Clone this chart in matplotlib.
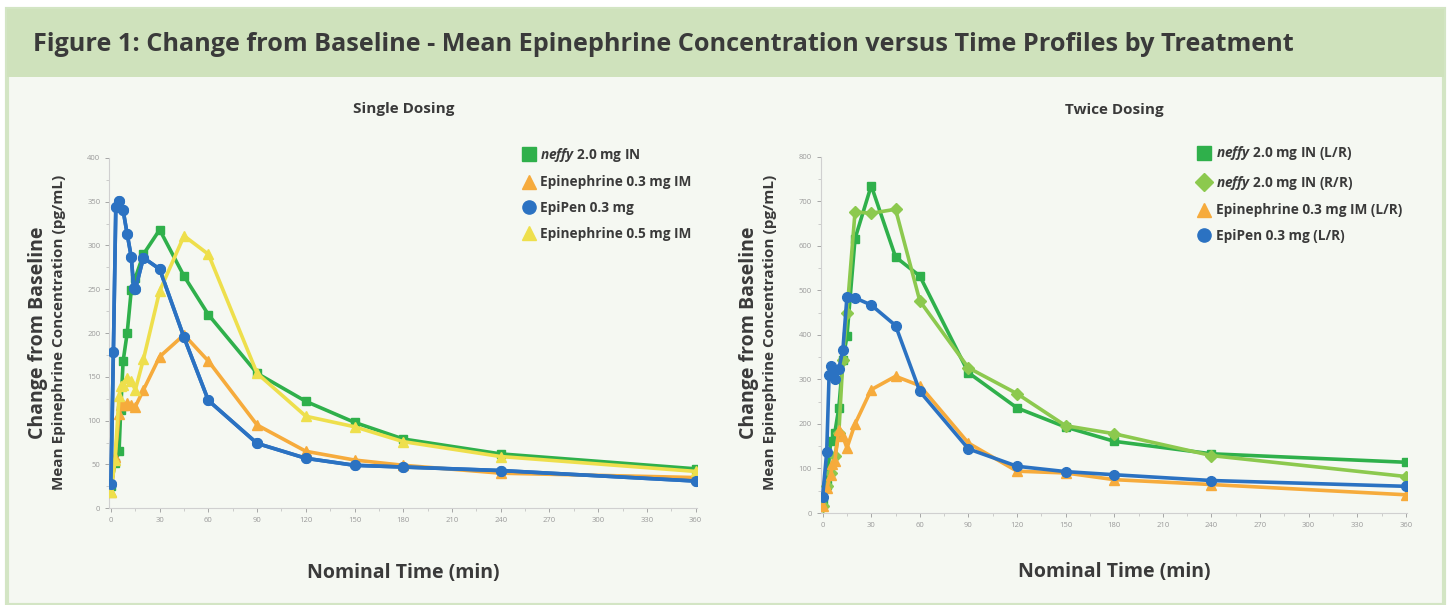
import numpy as np
import matplotlib.pyplot as plt
from matplotlib.lines import Line2D
from matplotlib.patches import Rectangle

plt.rcParams['font.family'] = ['Open Sans', 'DejaVu Sans']
plt.rcParams['mathtext.fontset'] = 'custom'
plt.rcParams['mathtext.it'] = 'Open Sans:italic:bold'
plt.rcParams['mathtext.rm'] = 'Open Sans:bold'

# ---- single dosing
t_neffy1 = [0, 2.5, 5, 6, 7.5, 10, 12.5, 15, 20, 30, 45, 60, 90, 120, 150, 180, 240, 360]
neffy1 = [25, 52, 65, 112, 168, 200, 249, 263, 290, 318, 265, 221, 154, 122, 98, 79, 62, 45]
t_epi03 = [0, 2.5, 5, 6, 7.5, 10, 12.5, 15, 20, 30, 45, 60, 90, 120, 150, 180, 240, 360]
epi03 = [19, 58, 107, 118, 118, 120, 118, 116, 135, 173, 198, 168, 95, 65, 55, 49, 40, 35]
t_epipen1 = [0, 1.5, 3, 5, 7.5, 10, 12.5, 14, 15, 20, 30, 45, 60, 90, 120, 150, 180, 240, 360]
epipen1 = [28, 178, 344, 351, 340, 313, 287, 252, 250, 286, 273, 195, 123, 74, 57, 49, 47, 43, 31]
t_epi05 = [0, 2.5, 5, 6, 7.5, 10, 12.5, 15, 20, 30, 45, 60, 90, 120, 150, 180, 240, 360]
epi05 = [19, 55, 128, 139, 141, 149, 145, 135, 170, 248, 311, 290, 154, 105, 93, 76, 59, 42]

# ---- twice dosing
t_lr = [0, 2.5, 5, 7.5, 10, 12.5, 15, 20, 30, 45, 60, 90, 120, 150, 180, 240, 360]
neffy_lr = [22, 64, 161, 180, 236, 344, 397, 616, 735, 575, 532, 315, 236, 193, 161, 133, 114]
t_rr = [0, 2.5, 5, 7.5, 10, 12.5, 15, 20, 30, 45, 60, 90, 120, 150, 180, 240, 360]
neffy_rr = [15, 60, 90, 127, 180, 344, 450, 676, 673, 682, 476, 326, 268, 196, 178, 129, 82]
t_epi_lr = [0, 2.5, 5, 6, 7.5, 10, 12.5, 15, 20, 30, 45, 60, 90, 120, 150, 180, 240, 360]
epi_lr = [15, 56, 86, 109, 116, 187, 172, 146, 200, 277, 307, 286, 157, 94, 90, 75, 64, 41]
t_pen_lr = [0, 2.5, 4, 5, 6, 7.5, 10, 12.5, 15, 20, 30, 45, 60, 90, 120, 150, 180, 240, 360]
pen_lr = [37, 136, 311, 330, 315, 301, 324, 366, 485, 483, 467, 421, 273, 144, 105, 93, 86, 73, 60]

GREEN = '#2fb04b'
LGREEN = '#8cc94e'
ORANGE = '#f6ab3c'
BLUE = '#2b72c2'
YELLOW = '#eedf4c'
TXT = '#3a3a3a'
BG = '#f5f8f2'

fig = plt.figure(figsize=(14.48, 6.05), dpi=100, facecolor='white')
fig.patches.append(Rectangle((0.005, 0.0), 0.992, 0.985, transform=fig.transFigure,
                             facecolor=BG, edgecolor='#d3e5c4', lw=3, zorder=-2))
fig.patches.append(Rectangle((0.005, 0.873), 0.992, 0.112, transform=fig.transFigure,
                             facecolor='#cfe2bc', edgecolor='none', zorder=-1))
fig.text(0.023, 0.927, 'Figure 1: Change from Baseline - Mean Epinephrine Concentration versus Time Profiles by Treatment',
         fontsize=18.2, fontweight='bold', color=TXT, va='center', ha='left')


def panel(ax, series, title, ymax, ystep, tpad, xpad):
    for t, y, c, m, ms, lab in series:
        ax.plot(t, y, color=c, lw=2.6, marker=m, ms=ms, mec=c, mfc=c, zorder=3)
    ax.set_xlim(-1, 361)
    ax.set_ylim(0, ymax)
    ax.set_xticks(np.arange(0, 361, 30))
    ax.set_xticks(np.arange(0, 361, 15), minor=True)
    ax.set_yticks(np.arange(0, ymax + 1, ystep))
    ax.set_yticks(np.arange(0, ymax + 1, ystep / 2), minor=True)
    ax.tick_params(labelsize=5.5, colors='#9a9a9a', length=3, width=0.6)
    ax.tick_params(which='minor', length=2, width=0.5, colors='#bbbbbb')
    for s in ['top', 'right']:
        ax.spines[s].set_visible(False)
    for s in ['left', 'bottom']:
        ax.spines[s].set_color('#d0d0d0')
        ax.spines[s].set_linewidth(0.8)
    ax.set_facecolor(BG)
    ax.set_title(title, fontsize=11, fontweight='bold', color=TXT, pad=tpad)
    ax.set_xlabel('Nominal Time (min)', fontsize=14, fontweight='bold', color=TXT, labelpad=xpad)
    handles = [Line2D([], [], ls='none', marker=m, color=c, ms=9.5) for t, y, c, m, ms, lab in series]
    labels = [lab for t, y, c, m, ms, lab in series]
    leg = ax.legend(handles, labels, loc='upper right', frameon=False, fontsize=9.8,
                    handletextpad=0.35, labelspacing=0.85, borderaxespad=0.0,
                    bbox_to_anchor=(1.0, 1.05), handlelength=1.0)
    for tx in leg.get_texts():
        tx.set_color(TXT)
        tx.set_fontweight('bold')


ax1 = fig.add_axes([0.0755, 0.160, 0.406, 0.579])
panel(ax1, [
    (t_neffy1, neffy1, GREEN, 's', 6, r'$\it{neffy}$ 2.0 mg IN'),
    (t_epi03, epi03, ORANGE, '^', 7, 'Epinephrine 0.3 mg IM'),
    (t_epipen1, epipen1, BLUE, 'o', 7, 'EpiPen 0.3 mg'),
    (t_epi05, epi05, YELLOW, '^', 7, 'Epinephrine 0.5 mg IM'),
], 'Single Dosing', 400, 50, 32, 28)
ax1.plot(t_epipen1, epipen1, color=BLUE, lw=2.6, marker='o', ms=7, zorder=4)

ax2 = fig.add_axes([0.567, 0.152, 0.405, 0.589])
panel(ax2, [
    (t_lr, neffy_lr, GREEN, 's', 6, r'$\it{neffy}$ 2.0 mg IN (L/R)'),
    (t_rr, neffy_rr, LGREEN, 'D', 6, r'$\it{neffy}$ 2.0 mg IN (R/R)'),
    (t_epi_lr, epi_lr, ORANGE, '^', 7, 'Epinephrine 0.3 mg IM (L/R)'),
    (t_pen_lr, pen_lr, BLUE, 'o', 7, 'EpiPen 0.3 mg (L/R)'),
], 'Twice Dosing', 800, 100, 31, 24)

for x in [0.026, 0.517]:
    fig.text(x, 0.45, 'Change from Baseline', rotation=90, fontsize=14, fontweight='bold',
             color=TXT, ha='center', va='center')
    fig.text(x + 0.015, 0.45, 'Mean Epinephrine Concentration (pg/mL)', rotation=90, fontsize=11,
             fontweight='bold', color=TXT, ha='center', va='center')

fig.savefig('out.png', dpi=100, facecolor=fig.get_facecolor())
